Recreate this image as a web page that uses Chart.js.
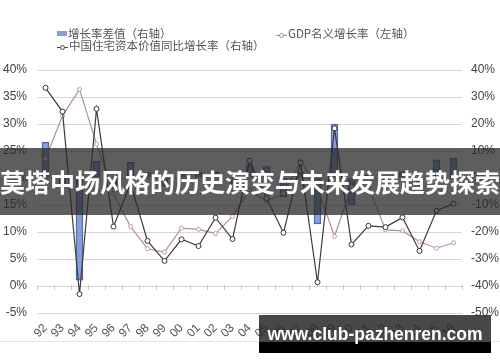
<!DOCTYPE html>
<html>
<head>
<meta charset="utf-8">
<script src="https://cdn.jsdelivr.net/npm/chart.js@4.4.0/dist/chart.umd.min.js"></script>
<style>
  body { margin: 0; background: #fff; }
  #wrap { position: relative; width: 500px; height: 362px; overflow: hidden; background: #fff; }
  #chart { position: absolute; left: 0; top: 0; }
  .leg { position: absolute; font-family: "Noto Sans CJK SC", sans-serif; font-size: 11.5px; color: #555; white-space: nowrap; line-height: 14px; }
  .leg svg { vertical-align: -1px; margin-right: 1px; }
  .sq { display: inline-block; width: 10px; height: 5px; background: #8b9bd3; margin-right: 1px; vertical-align: 2px; }
  #banner { position: absolute; left: 0; top: 148px; width: 500px; height: 67px; background: rgba(40,40,40,0.75); color: #fff;
    font-family: "Noto Sans CJK SC", sans-serif; font-weight: 700; font-size: 25px; line-height: 67px; text-align: center; white-space: nowrap; }
  #edge { position: absolute; left: 0; top: 341px; width: 500px; height: 1px; background: #e4e4e4; }
  #site { position: absolute; left: 259px; top: 315px; width: 232px; height: 38px; color: #fff;
    background: linear-gradient(to bottom, rgba(40,40,40,0.85) 0px, rgba(40,40,40,0.85) 27px, #000 27px, #000 38px);
    font-family: "Liberation Sans", Arial, sans-serif; font-weight: 700; font-size: 17.5px; line-height: 38px; text-align: center; white-space: nowrap; }
</style>
</head>
<body>
<div id="wrap">
  <canvas id="chart" width="500" height="362"></canvas>
  <div class="leg" style="left:57px; top:26px;"><span class="sq"></span>增长率差值（右轴）</div>
  <div class="leg" style="left:276px; top:26px;"><svg width="11" height="7"><line x1="0" y1="3.5" x2="11" y2="3.5" stroke="#a88a92" stroke-width="1"/><circle cx="5.5" cy="3.5" r="2" fill="#fff" stroke="#a88a92"/></svg>GDP名义增长率（左轴）</div>
  <div class="leg" style="left:57px; top:38px;"><svg width="11" height="7"><line x1="0" y1="3.5" x2="11" y2="3.5" stroke="#444" stroke-width="1"/><circle cx="5.5" cy="3.5" r="2" fill="#fff" stroke="#444"/></svg>中国住宅资本价值同比增长率（右轴）</div>
  <div id="banner">莫塔中场风格的历史演变与未来发展趋势探索</div>
  <div id="edge"></div>
  <div id="site">www.club-pazhenren.com</div>
</div>
<script>
// years 1992 - 2016
const years = ["92", "93", "94", "95", "96", "97", "98", "99", "00", "01", "02", "03", "04",
  "05", "06", "07", "08", "09", "10", "11", "12", "13", "14", "15", "16"];

// 增长率差值 (right axis, %)
const diffValues = [13.3, -3, -37.8, 6.3, -4, 5.8, 2, -3, 1.5, 2, 2.2, -2, 5,
  4.2, -7, 2, -17, 20, -10, 1, -1, 2.3, -2, 6.7, 7.4];

// GDP名义增长率 (left axis, %)
const gdpValues = [23.6, 31.5, 36.4, 26.3, 17.1, 11.0, 6.9, 6.3, 10.7, 10.5, 9.7, 12.9, 17.8,
  15.7, 17.1, 23.1, 18.2, 9.2, 18.3, 18.4, 10.4, 10.2, 8.2, 7.0, 8.0];

// 中国住宅资本价值同比增长率 (right axis, %)
const housingValues = [33.4, 24.6, -43, 25.6, -18, -2, -23.3, -30.7, -22.7, -25.2, -14.7, -22.6, 6.4,
  -7.5, -20.3, 5.7, -38.6, 18.4, -24.6, -17.7, -18.2, -14.6, -27, -12.1, -9.5];

const leftTicks = { min: -5, max: 40, step: 5 };
const rightTicks = { min: -50, max: 40, step: 10 };

// little tick marks sitting on the 0% line
const zeroTicks = {
  id: "zeroTicks",
  beforeDatasetsDraw(chart) {
    const xs = chart.scales.x;
    const y0 = chart.scales.y.getPixelForValue(0);
    const w = xs.width / years.length;
    const ctx = chart.ctx;
    ctx.save();
    ctx.strokeStyle = "#c8c8c8";
    ctx.lineWidth = 1;
    ctx.beginPath();
    for (let i = 0; i <= years.length; i++) {
      const x = Math.round(xs.left + i * w) + 0.5;
      ctx.moveTo(x, y0 - 1);
      ctx.lineTo(x, y0 + 4);
    }
    ctx.stroke();
    ctx.restore();
  }
};

const axisFont = { family: "'Liberation Sans', Arial, sans-serif", size: 12 };

new Chart(document.getElementById("chart"), {
  data: {
    labels: years,
    datasets: [
      {
        type: "line",
        label: "中国住宅资本价值同比增长率（右轴）",
        data: housingValues,
        yAxisID: "y1",
        borderColor: "#3c3c3c",
        borderWidth: 1.2,
        pointRadius: 2.5,
        pointBackgroundColor: "#fff",
        pointBorderColor: "#333",
        pointBorderWidth: 1,
        tension: 0,
        order: 1
      },
      {
        type: "line",
        label: "GDP名义增长率（左轴）",
        data: gdpValues,
        yAxisID: "y",
        borderColor: "#b0929a",
        borderWidth: 1.2,
        pointRadius: 2,
        pointBackgroundColor: "#fff",
        pointBorderColor: "#c09aa4",
        pointBorderWidth: 1,
        tension: 0,
        order: 2
      },
      {
        type: "bar",
        label: "增长率差值（右轴）",
        data: diffValues,
        yAxisID: "y1",
        backgroundColor: "rgba(122,148,214,0.9)",
        borderColor: "#4a5c98",
        borderWidth: 1,
        barThickness: 7,
        order: 3
      }
    ]
  },
  options: {
    responsive: false,
    animation: false,
    layout: { padding: { top: 70, left: 0, right: 0, bottom: 0 } },
    plugins: {
      legend: { display: false },
      tooltip: { enabled: false }
    },
    scales: {
      x: {
        offset: true,
        grid: { display: false, drawTicks: false },
        border: { display: false },
        ticks: {
          font: axisFont,
          color: "#555",
          autoSkip: false,
          maxRotation: 45,
          minRotation: 45,
          padding: 8
        },
        afterFit(scale) { scale.height = 49; }
      },
      y: {
        position: "left",
        min: leftTicks.min,
        max: leftTicks.max,
        ticks: {
          stepSize: leftTicks.step,
          font: axisFont,
          color: "#444",
          padding: 10,
          callback: (v) => v + "%"
        },
        grid: { color: "#d6d6d6", drawTicks: false },
        border: { display: false },
        afterFit(scale) { scale.width = 37; }
      },
      y1: {
        position: "right",
        min: rightTicks.min,
        max: rightTicks.max,
        ticks: {
          stepSize: rightTicks.step,
          font: axisFont,
          color: "#444",
          padding: 9,
          callback: (v) => v + "%"
        },
        grid: { drawOnChartArea: false, drawTicks: false },
        border: { display: false },
        afterFit(scale) { scale.width = 38; }
      }
    }
  },
  plugins: [zeroTicks]
});
</script>
</body>
</html>
